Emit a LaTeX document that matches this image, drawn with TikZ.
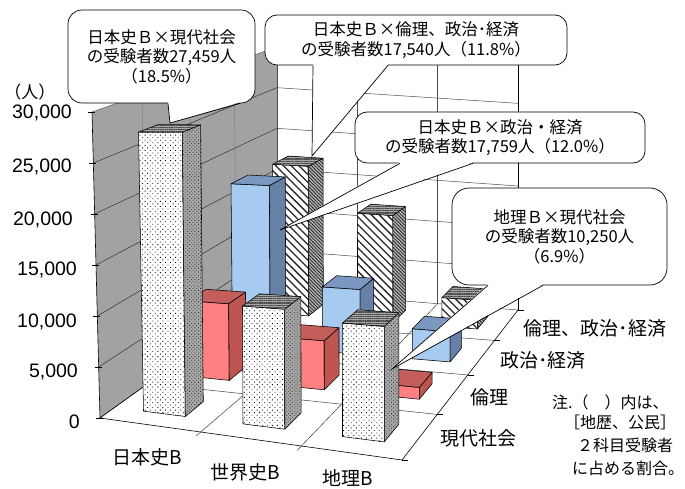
\documentclass[tikz,border=0pt]{standalone}
\usepackage{fontspec}
\setmainfont{Liberation Sans}
\newfontfamily\jp{Noto Sans CJK JP}
\usetikzlibrary{patterns.meta,calc}

\definecolor{wallgray}{HTML}{A2A2A2}
\definecolor{redF}{HTML}{FF8080}
\definecolor{redS}{HTML}{BF5550}
\definecolor{redT}{HTML}{C45E5C}
\definecolor{bluF}{HTML}{A6CAF0}
\definecolor{bluS}{HTML}{6680A6}
\definecolor{bluT}{HTML}{7A98C0}

% perspective-like projection: u in [0,3] categories, v in [0,4] series depth, h in thousands of persons
\newcommand\ProjPt[4]{%
  \pgfmathsetmacro\prS{(#2)/3}%
  \pgfmathsetmacro\prT{(#3)/4}%
  \pgfmathsetmacro\prFL{\prT*1.115/(1+0.115*\prT)}%
  \pgfmathsetmacro\prFR{\prT*1.31/(1+0.31*\prT)}%
  \pgfmathsetmacro\prLx{100+177*\prFL}%
  \pgfmathsetmacro\prLy{418-127*\prFL}%
  \pgfmathsetmacro\prRx{402+116*\prFR}%
  \pgfmathsetmacro\prRy{460-150*\prFR}%
  \pgfmathsetmacro\prSL{306-62*\prFL}%
  \pgfmathsetmacro\prSR{352-104*\prFR}%
  \pgfmathsetmacro\prK{(#4)/30}%
  \pgfmathsetmacro\prX{\prLx+\prS*(\prRx-\prLx)-8*(1-\prS)*(1-\prS)*(1-\prS)*(1-\prT)*\prK}%
  \pgfmathsetmacro\prY{\prLy+\prS*(\prRy-\prLy)-(\prSL+\prS*(\prSR-\prSL))*\prK}%
  \coordinate (#1) at (\prX,\prY);%
}

\newcommand\DrawBar[4]{%
  \pgfmathsetmacro\bUa{#1+0.29}\pgfmathsetmacro\bUb{#1+0.71}%
  \pgfmathsetmacro\bVa{#2+0.3}\pgfmathsetmacro\bVb{#2+0.7}%
  \ProjPt{ba}{\bUa}{\bVa}{0}\ProjPt{bb}{\bUb}{\bVa}{0}\ProjPt{bc}{\bUb}{\bVb}{0}%
  \ProjPt{bd}{\bUa}{\bVa}{#3}\ProjPt{be}{\bUb}{\bVa}{#3}%
  \ProjPt{bf}{\bUb}{\bVb}{#3}\ProjPt{bg}{\bUa}{\bVb}{#3}%
  \draw[barline,#4front] (ba) -- (bb) -- (be) -- (bd) -- cycle;
  \draw[barline,#4side] (bb) -- (bc) -- (bf) -- (be) -- cycle;
  \draw[barline,#4top] (bd) -- (be) -- (bf) -- (bg) -- cycle;
}

\tikzset{
  barline/.style={draw=black, line width=0.55pt, line join=round},
  gsfront/.style={preaction={fill=white}, pattern={Dots[radius=0.6pt, distance=3.6pt, angle=45]}, pattern color=black},
  gsside/.style={preaction={fill=black!35}, pattern={Dots[radius=0.55pt, distance=2.6pt, angle=45]}, pattern color=black!85},
  gstop/.style={preaction={fill=black!35}, pattern={Lines[angle=0, distance=1.8pt, line width=0.5pt]}, pattern color=black!70},
  rdfront/.style={fill=redF}, rdside/.style={fill=redS}, rdtop/.style={fill=redT},
  blfront/.style={fill=bluF}, blside/.style={fill=bluS}, bltop/.style={fill=bluT},
  hsfront/.style={preaction={fill=white}, pattern={Lines[angle=-45, distance=5.5pt, line width=1.3pt]}, pattern color=black!85},
  hsside/.style={preaction={fill=black!30}, pattern={Lines[angle=-45, distance=2.4pt, line width=0.8pt]}, pattern color=black!85},
  hstop/.style={preaction={fill=black!35}, pattern={Lines[angle=0, distance=1.8pt, line width=0.5pt]}, pattern color=black!70},
  wallgrid/.style={draw=black!80, line width=0.5pt},
  wallvgrid/.style={draw=black!50, line width=0.5pt},
  backgrid/.style={draw=black!70, line width=0.5pt},
  floorgrid/.style={draw=black!80, line width=0.45pt},
  edge/.style={draw=black, line width=0.6pt},
  callout/.style={draw=black, fill=white, line width=0.7pt, rounded corners=14pt, align=center, inner sep=0pt, font=\jp\fontsize{16.5}{19.5}\selectfont},
  wedgeline/.style={draw=black, line width=0.7pt, line join=miter},
  ylab/.style={anchor=east, inner sep=0pt, font=\fontsize{19.5}{20}\selectfont},
  catlab/.style={inner sep=0pt, font=\jp\fontsize{19}{22}\selectfont},
  notelab/.style={anchor=west, inner sep=0pt, font=\jp\fontsize{16}{18}\selectfont},
}

\begin{document}
\begin{tikzpicture}[x=1pt, y=-1pt]
\fill[white] (0,0) rectangle (685,489);
\useasboundingbox (0,0) rectangle (685,489);

% ---- left (side) wall ----
\ProjPt{lw1}{0}{0}{0}\ProjPt{lw2}{0}{4}{0}\ProjPt{lw3}{0}{4}{30}\ProjPt{lw4}{0}{0}{30}
\fill[wallgray] (lw1) -- (lw2) -- (lw3) -- (lw4) -- cycle;
\foreach \vv in {1,2,3}{\ProjPt{ga}{0}{\vv}{0}\ProjPt{gb}{0}{\vv}{30}\draw[wallvgrid] (ga) -- (gb);}
\foreach \hh in {5,10,15,20,25}{\ProjPt{ga}{0}{0}{\hh}\ProjPt{gb}{0}{4}{\hh}\draw[wallgrid] (ga) -- (gb);}
\draw[draw=black!60, line width=0.5pt] (lw4) -- (lw3);
\draw[edge] (lw2) -- (lw1) -- (lw4);

% ---- back wall ----
\ProjPt{bw1}{0}{4}{0}\ProjPt{bw2}{3}{4}{0}\ProjPt{bw3}{3}{4}{30}\ProjPt{bw4}{0}{4}{30}
\fill[white] (bw1) -- (bw2) -- (bw3) -- (bw4) -- cycle;
\foreach \uu in {1,2}{\ProjPt{ga}{\uu}{4}{0}\ProjPt{gb}{\uu}{4}{30}\draw[backgrid] (ga) -- (gb);}
\foreach \hh in {5,10,15,20,25,30}{\ProjPt{ga}{0}{4}{\hh}\ProjPt{gb}{3}{4}{\hh}\draw[backgrid] (ga) -- (gb);}
\draw[edge] (bw2) -- (bw3);
\draw[draw=black!70, line width=0.5pt] (bw4) -- (bw1);

% ---- floor ----
\ProjPt{fl1}{0}{0}{0}\ProjPt{fl2}{3}{0}{0}\ProjPt{fl3}{3}{4}{0}
\fill[white] (fl1) -- (fl2) -- (fl3) -- (bw1) -- cycle;
\foreach \vv in {1,2,3}{\ProjPt{ga}{0}{\vv}{0}\ProjPt{gb}{3}{\vv}{0}\draw[floorgrid] (ga) -- (gb);}
\foreach \uu in {1,2}{\ProjPt{ga}{\uu}{-0.1}{0}\ProjPt{gb}{\uu}{4}{0}\draw[floorgrid] (ga) -- (gb);}
\draw[floorgrid] (bw1) -- (bw2);
\draw[edge] (lw2) -- (fl1) -- (fl2) -- (fl3);
\foreach \vv in {0,1,2,3,4}{\ProjPt{ta}{3}{\vv}{0}\draw[edge] (ta) -- ++(6,0);}
\foreach \hh in {0,5,10,15,20,25,30}{\ProjPt{ta}{0}{0}{\hh}\draw[edge] (ta) ++(-4,0) -- ++(7,0);}

% ---- bars (back to front), values in thousands ----
\DrawBar{0}{3}{17.540}{hs}
\DrawBar{1}{3}{12.4}{hs}
\DrawBar{2}{3}{3.3}{hs}
\DrawBar{0}{2}{17.759}{bl}
\DrawBar{1}{2}{7.0}{bl}
\DrawBar{2}{2}{3.2}{bl}
\DrawBar{0}{1}{7.9}{rd}
\DrawBar{1}{1}{4.9}{rd}
\DrawBar{2}{1}{1.15}{rd}
\DrawBar{0}{0}{27.459}{gs}
\DrawBar{1}{0}{11.1}{gs}
\DrawBar{2}{0}{10.250}{gs}

% ---- callouts ----
\node[callout, minimum width=187pt, minimum height=93pt] (c1) at (161.5,56.5)
  {日本史Ｂ×現代社会\\の受験者数27,459人\\（18.5\%）};
\coordinate (t1) at (170,123);
\fill[white] ([xshift=6.5pt,yshift=1.2pt]c1.south) -- (t1) -- ([xshift=78.5pt,yshift=1.2pt]c1.south) -- cycle;
\draw[wedgeline] ([xshift=6.5pt]c1.south) -- (t1) -- ([xshift=78.5pt]c1.south);

\node[callout, rounded corners=12pt, minimum width=302pt, minimum height=50pt] (c2) at (416,40)
  {日本史Ｂ×倫理、政治･経済\\の受験者数17,540人（11.8\%）};
\coordinate (t2) at (312,156);
\fill[white] ([xshift=-103pt,yshift=1.2pt]c2.south) -- (t2) -- ([xshift=-28pt,yshift=1.2pt]c2.south) -- cycle;
\draw[wedgeline] ([xshift=-103pt]c2.south) -- (t2) -- ([xshift=-28pt]c2.south);

\node[callout, rounded corners=12pt, minimum width=290pt, minimum height=51pt] (c3) at (500,137.5)
  {日本史Ｂ×政治・経済\\の受験者数17,759人（12.0\%）};
\coordinate (t3) at (280,230);
\fill[white] ([xshift=-100pt,yshift=1.2pt]c3.south) -- (t3) -- ([xshift=-27pt,yshift=1.2pt]c3.south) -- cycle;
\draw[wedgeline] ([xshift=-100pt]c3.south) -- (t3) -- ([xshift=-27pt]c3.south);

\node[callout, rounded corners=17pt, minimum width=215pt, minimum height=97pt] (c4) at (559.5,236.5)
  {地理Ｂ×現代社会\\の受験者数10,250人\\（6.9\%）};
\coordinate (t4) at (392,369);
\fill[white] ([xshift=-71.5pt,yshift=1.2pt]c4.south) -- (t4) -- ([xshift=-16.5pt,yshift=1.2pt]c4.south) -- cycle;
\draw[wedgeline] ([xshift=-71.5pt]c4.south) -- (t4) -- ([xshift=-16.5pt]c4.south);

% ---- axis labels ----
\node[inner sep=0pt, font=\jp\fontsize{17}{20}\selectfont] (unit) at (30,92) {（人）};
\node[ylab] (y30) at (72,113) {30,000};
\node[ylab] (y25) at (72,167) {25,000};
\node[ylab] (y20) at (73,220) {20,000};
\node[ylab] (y15) at (77,270) {15,000};
\node[ylab] (y10) at (77,322) {10,000};
\node[ylab] (y5) at (78,372) {5,000};
\node[ylab] (y0) at (80,422) {0};

\node[catlab] (k1) at (147.5,457) {日本史B};
\node[catlab] (k2) at (245.5,472) {世界史B};
\node[catlab] (k3) at (347.5,478) {地理B};

\node[catlab] (s1) at (478,438) {現代社会};
\node[catlab] (s2) at (489,397) {倫理};
\node[catlab] (s3) at (543,360) {政治･経済};
\node[catlab] (s4) at (595,328) {倫理、政治･経済};

\node[notelab] (n1) at (552,402) {注.（　）内は、};
\node[notelab] (n2) at (564,422) {［地歴、公民］};
\node[notelab] (n3) at (577,445) {２科目受験者};
\node[notelab] (n4) at (572,468) {に占める割合。};
\end{tikzpicture}
\end{document}
